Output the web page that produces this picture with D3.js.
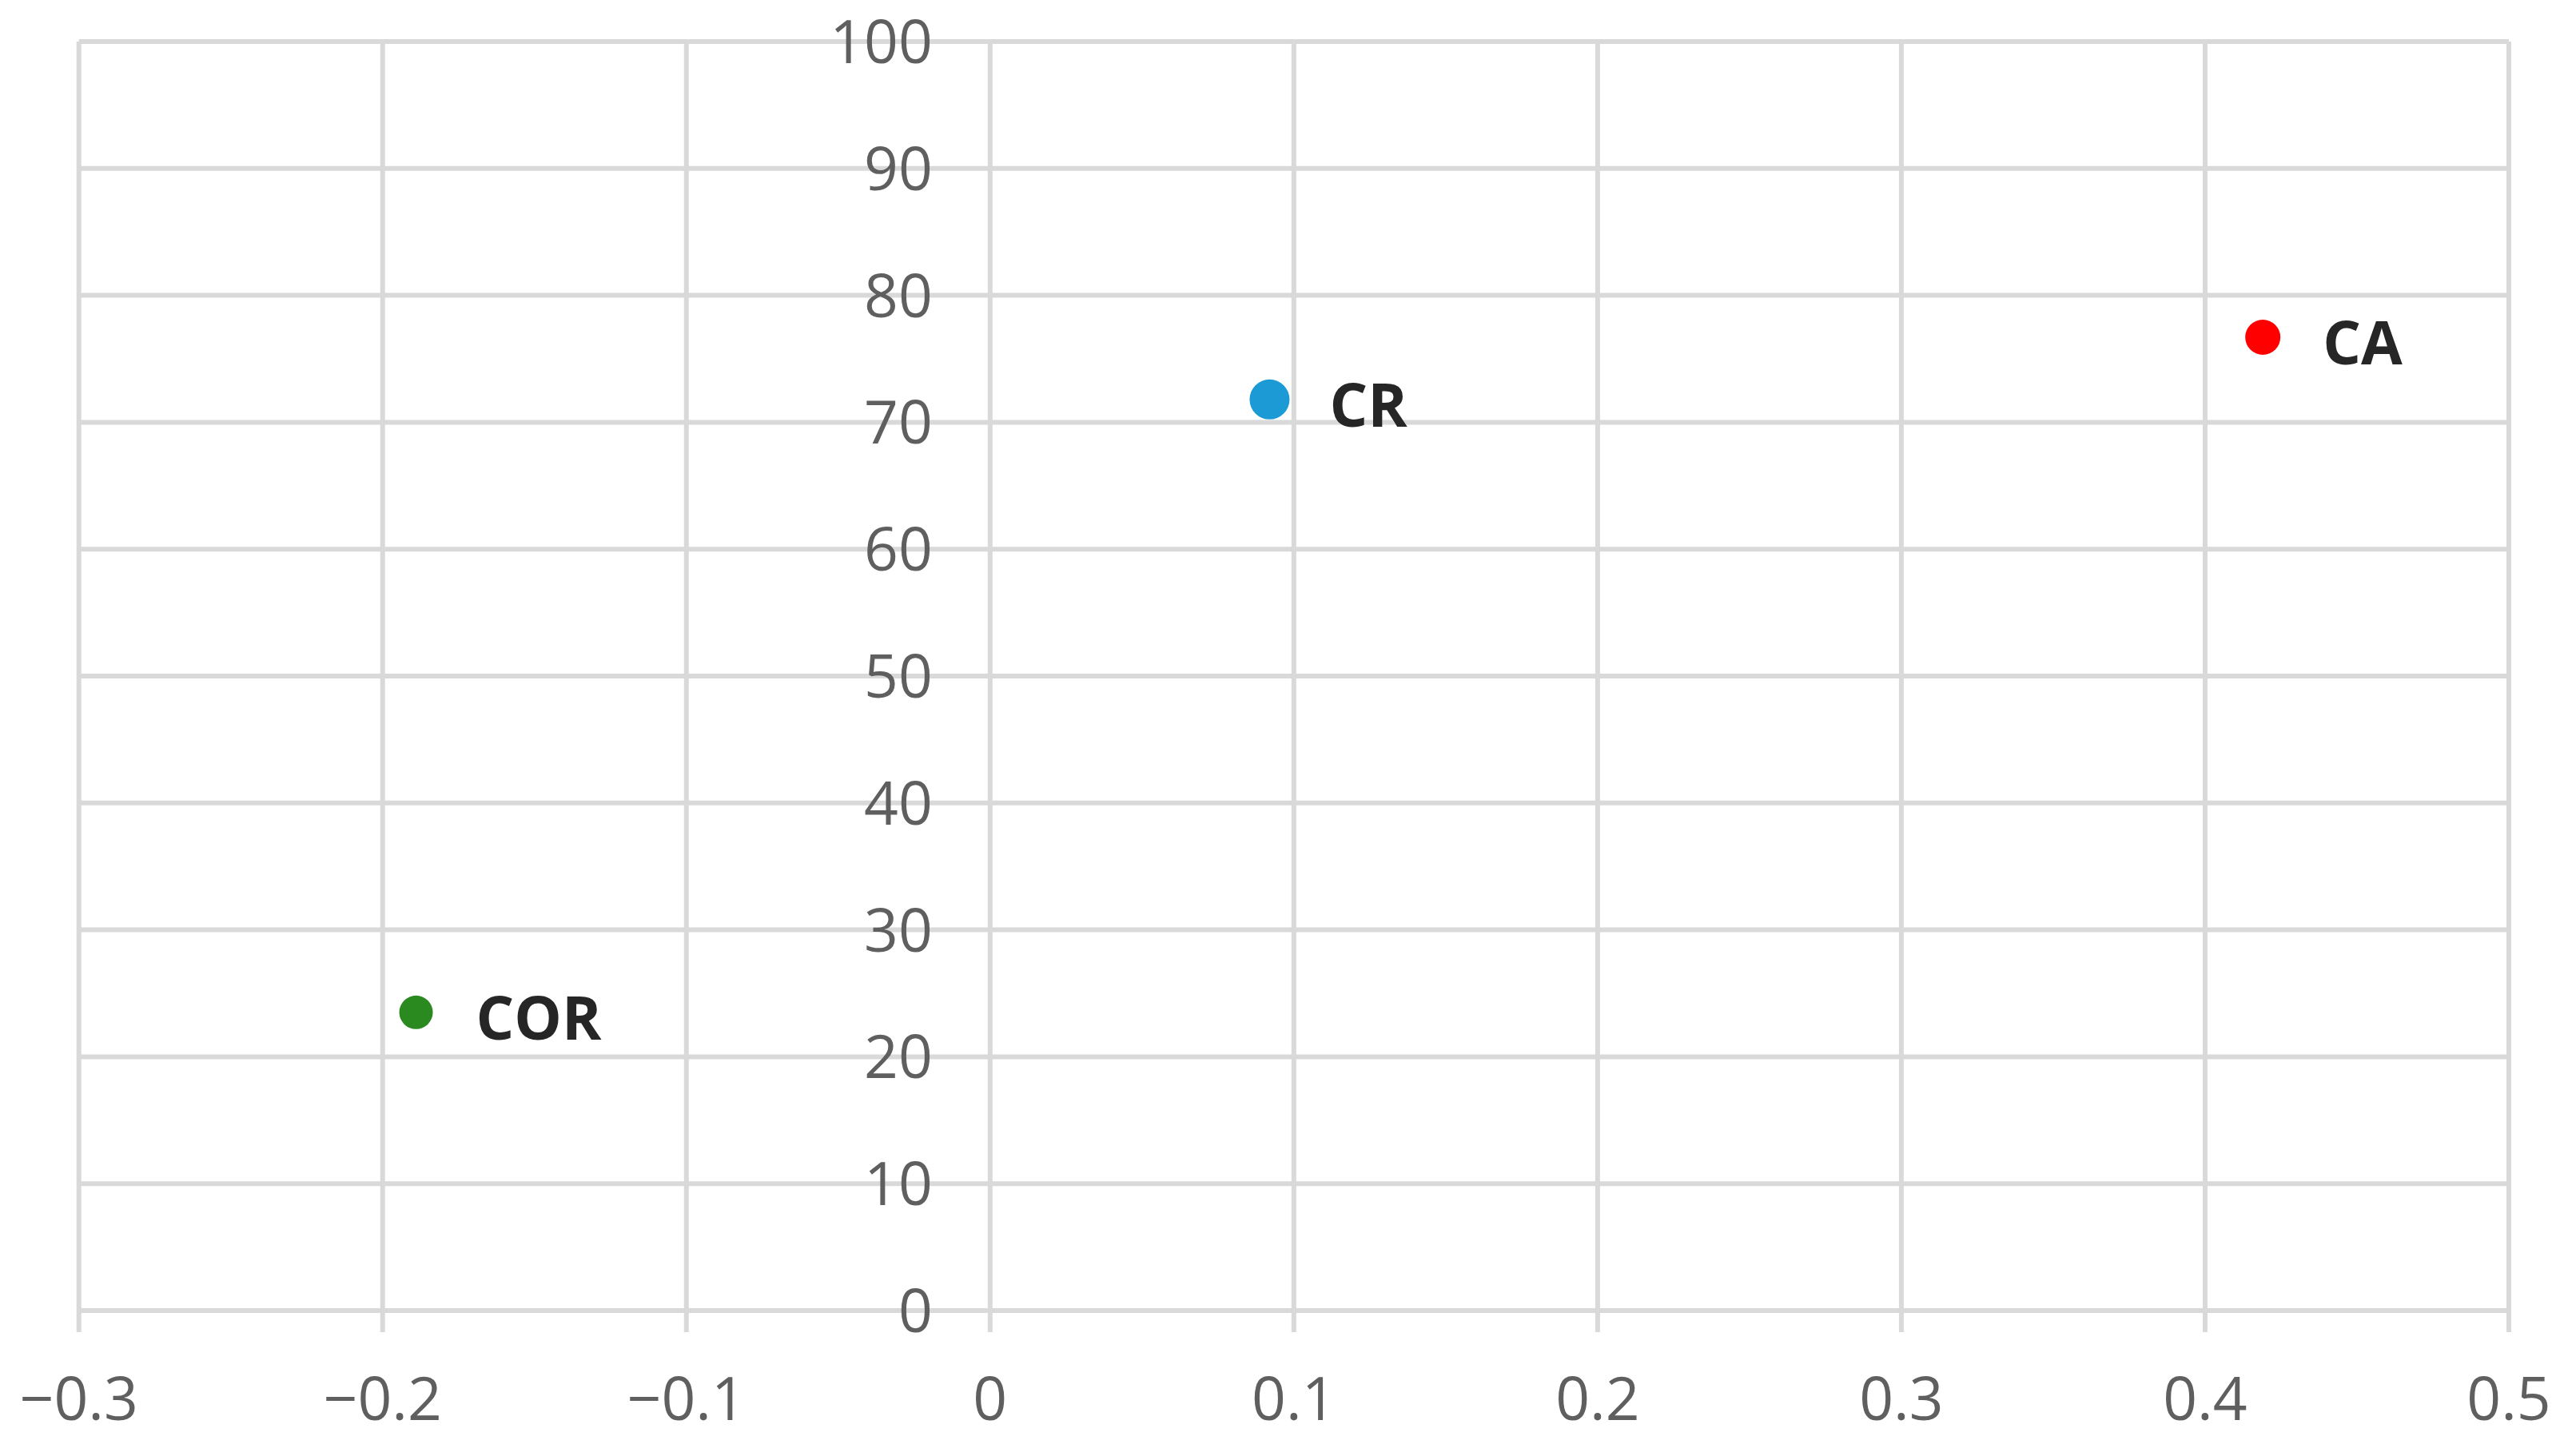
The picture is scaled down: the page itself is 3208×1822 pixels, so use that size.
<!DOCTYPE html>
<html>
<head>
<meta charset="utf-8">
<script src="https://cdn.jsdelivr.net/npm/d3@7"></script>
<style>
  html, body { margin: 0; padding: 0; background: #ffffff; }
  svg { display: block; }
</style>
</head>
<body>
<script>
// ---- data ----
const labels = ["CR", "CA", "COR"];
const xValues = [0.092, 0.419, -0.189];
const yValues = [71.8, 76.7, 23.5];
const colors = ["#1b9ad6", "#ff0000", "#2b8a1f"];
const radii = [25, 22, 21];
const xTicks = [-0.3, -0.2, -0.1, 0, 0.1, 0.2, 0.3, 0.4, 0.5];
const yTicks = [0, 10, 20, 30, 40, 50, 60, 70, 80, 90, 100];

const W = 3208, H = 1822;
const mLeft = 98.7, mRight = 3139, mTop = 52, mBottom = 1640;

const svg = d3.select("body").append("svg").attr("width", W).attr("height", H);

const x = d3.scaleLinear().domain([-0.3, 0.5]).range([mLeft, mRight]);
const y = d3.scaleLinear().domain([0, 100]).range([mBottom, mTop]);

const grid = "#d9d9d9";
const gw = 6;

// horizontal gridlines
svg.append("g").selectAll("line").data(yTicks).join("line")
  .attr("x1", mLeft).attr("x2", mRight)
  .attr("y1", d => y(d)).attr("y2", d => y(d))
  .attr("stroke", grid).attr("stroke-width", gw);

// vertical gridlines + ticks
svg.append("g").selectAll("line").data(xTicks).join("line")
  .attr("x1", d => x(d)).attr("x2", d => x(d))
  .attr("y1", mTop).attr("y2", mBottom + 27)
  .attr("stroke", grid).attr("stroke-width", gw);

const fmtX = d => d === 0 ? "0" : (d < 0 ? "\u2212" + d3.format(".1f")(-d) : d3.format(".1f")(d));

// x tick labels
svg.append("g").selectAll("text").data(xTicks).join("text")
  .attr("x", d => x(d)).attr("y", mBottom + 137)
  .attr("text-anchor", "middle")
  .attr("font-family", "'Open Sans', sans-serif")
  .attr("font-size", 75)
  .attr("fill", "#5f5f5f")
  .text(fmtX);

// y tick labels (at x = 0 axis)
svg.append("g").selectAll("text").data(yTicks).join("text")
  .attr("x", x(0) - 72).attr("y", d => y(d) + 27)
  .attr("text-anchor", "end")
  .attr("font-family", "'Open Sans', sans-serif")
  .attr("font-size", 75)
  .attr("fill", "#5f5f5f")
  .text(d => d);

const pts = labels.map((l, i) => ({ l, x: xValues[i], y: yValues[i], c: colors[i], r: radii[i] }));

svg.append("g").selectAll("circle").data(pts).join("circle")
  .attr("cx", d => x(d.x)).attr("cy", d => y(d.y))
  .attr("r", d => d.r).attr("fill", d => d.c);

svg.append("g").selectAll("text").data(pts).join("text")
  .attr("x", d => x(d.x) + 75).attr("y", d => y(d.y) + 34)
  .attr("font-family", "'Open Sans', sans-serif")
  .attr("font-weight", "bold")
  .attr("font-size", 75)
  .attr("fill", "#262626")
  .text(d => d.l);
</script>
</body>
</html>
